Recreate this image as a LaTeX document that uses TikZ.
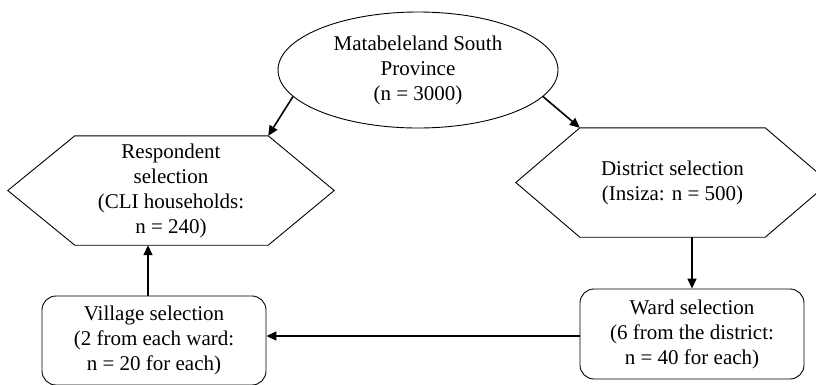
\documentclass[tikz,border=0pt]{standalone}
\usepackage{fontspec}
\setmainfont{Liberation Serif}
\usetikzlibrary{shapes.geometric,arrows.meta}
\tikzset{
  txt/.style={font=\fontsize{21}{25}\selectfont, align=center, text=black},
  ell/.style={txt, draw, ellipse, line width=0.9pt, inner sep=0pt, minimum width=280pt, minimum height=116pt},
  hexa/.style={txt, rectangle, inner sep=0pt},
  hexline/.style={line width=0.9pt},
  rbox/.style={txt, draw, rectangle, rounded corners=14pt, line width=0.9pt, inner sep=0pt},
  arr/.style={line width=1.6pt, -{Triangle[length=10pt,width=9pt]}}
}
\begin{document}
\begin{tikzpicture}[x=1pt,y=-1pt]
\useasboundingbox (0,0) rectangle (816,384);
\clip (0,0) rectangle (816,384);
\node[ell] (prov) at (418,70) {Matabeleland South\\Province\\(n = 3000)};
\node[hexa, minimum width=326pt, minimum height=109pt] (resp) at (171,190.5) {Respondent\\selection\\(CLI households:\\n = 240)};
\draw[hexline] (resp.west) -- ([xshift=67pt]resp.north west) coordinate (rtl) -- ([xshift=-66pt]resp.north east) coordinate (rtr) -- (resp.east) -- ([xshift=-66pt]resp.south east) -- ([xshift=67pt]resp.south west) -- cycle;
\node[hexa, minimum width=313pt, minimum height=109pt] (dist) at (672.5,182.5) {District selection\\(Insiza: n = 500)};
\draw[hexline] (dist.west) -- ([xshift=64pt]dist.north west) coordinate (dtl) -- ([xshift=-64pt]dist.north east) -- (dist.east) -- ([xshift=-64pt]dist.south east) -- ([xshift=64pt]dist.south west) -- cycle;
\node[rbox, minimum width=224pt, minimum height=90pt] (ward) at (692,334) {Ward selection\\(6 from the district:\\n = 40 for each)};
\node[rbox, minimum width=224pt, minimum height=89pt] (vill) at (154,340.5) {Village selection\\(2 from each ward:\\n = 20 for each)};
\draw[arr] (prov.192) -- (rtr);
\draw[arr] (prov.348) -- (dtl);
\draw[arr] (ward.north |- dist.south) -- (ward.north);
\draw[arr] (ward.west |- 0,336) -- (vill.east |- 0,336);
\draw[arr] (vill.north -| 148,0) -- (resp.south -| 148,0);
\end{tikzpicture}
\end{document}
